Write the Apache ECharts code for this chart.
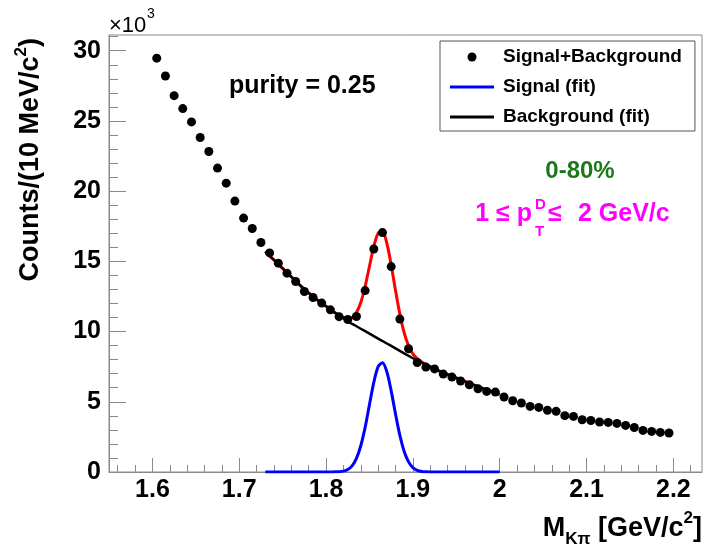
<!DOCTYPE html>
<html>
<head>
<meta charset="utf-8">
<script src="https://cdn.jsdelivr.net/npm/echarts@6/dist/echarts.min.js"></script>
<style>
  html, body { margin: 0; padding: 0; background: #fff; }
  #chart { width: 705px; height: 549px; }
</style>
</head>
<body>
<div id="chart"></div>
<script>
const FONT = 'Liberation Sans';

// invariant mass bins (GeV/c^2), counts in units of 10^3
const massBins = [
  1.605, 1.615, 1.625, 1.635, 1.645, 1.655, 1.665, 1.675, 1.685, 1.695,
  1.705, 1.715, 1.725, 1.735, 1.745, 1.755, 1.765, 1.775, 1.785, 1.795,
  1.805, 1.815, 1.825, 1.835, 1.845, 1.855, 1.865, 1.875, 1.885, 1.895,
  1.905, 1.915, 1.925, 1.935, 1.945, 1.955, 1.965, 1.975, 1.985, 1.995,
  2.005, 2.015, 2.025, 2.035, 2.045, 2.055, 2.065, 2.075, 2.085, 2.095,
  2.105, 2.115, 2.125, 2.135, 2.145, 2.155, 2.165, 2.175, 2.185, 2.195
];
const counts = [
  29.47, 28.2, 26.8, 25.88, 24.93, 23.82, 22.82, 21.64, 20.57, 19.29,
  18.08, 17.34, 16.34, 15.6, 14.87, 14.16, 13.57, 12.85, 12.43, 12.03,
  11.55, 11.06, 10.86, 11.07, 12.92, 15.88, 17.05, 14.63, 10.89, 8.78,
  7.8, 7.47, 7.34, 6.97, 6.76, 6.48, 6.21, 5.93, 5.74, 5.69,
  5.34, 5.07, 4.91, 4.67, 4.6, 4.4, 4.32, 4.01, 3.96, 3.72,
  3.67, 3.56, 3.53, 3.46, 3.32, 3.17, 2.96, 2.89, 2.82, 2.78
];

// fit curves
const fitMass = [
  1.73, 1.74, 1.75, 1.76, 1.77, 1.78, 1.79, 1.80, 1.81,
  1.815, 1.82, 1.825, 1.83, 1.835, 1.84, 1.845, 1.85, 1.855, 1.86, 1.865,
  1.87, 1.875, 1.88, 1.885, 1.89, 1.895, 1.90, 1.905, 1.91, 1.915,
  1.92, 1.93, 1.94, 1.95, 1.96, 1.97, 1.98, 1.99, 2.00
];
const bkgFit = [
  15.7, 15.1, 14.5, 13.9, 13.3, 12.75, 12.25, 11.8, 11.35,
  11.15, 10.95, 10.75, 10.55, 10.38, 10.2, 10.03, 9.85, 9.68, 9.5, 9.33,
  9.15, 8.98, 8.8, 8.63, 8.45, 8.28, 8.1, 7.95, 7.8, 7.65,
  7.5, 7.2, 6.95, 6.7, 6.45, 6.2, 5.97, 5.75, 5.53
];
const sigFit = [
  0, 0, 0, 0, 0, 0, 0, 0, 0.01,
  0.02, 0.06, 0.18, 0.44, 0.97, 1.87, 3.18, 4.8, 6.38, 7.5, 7.78,
  7.14, 5.78, 4.13, 2.61, 1.46, 0.72, 0.31, 0.12, 0.04, 0.01,
  0, 0, 0, 0, 0, 0, 0, 0, 0
];
const totalFit = [
  15.7, 15.1, 14.5, 13.9, 13.3, 12.75, 12.25, 11.8, 11.36,
  11.17, 11.01, 10.93, 10.99, 11.35, 12.07, 13.21, 14.65, 16.06, 17.0, 17.11,
  16.29, 14.76, 12.93, 11.24, 9.91, 9.0, 8.41, 8.07, 7.84, 7.66,
  7.5, 7.2, 6.95, 6.7, 6.45, 6.2, 5.97, 5.75, 5.53
];

const xTicks = [1.6, 1.7, 1.8, 1.9, 2.0, 2.1, 2.2];
const yTicks = [0, 5, 10, 15, 20, 25, 30];

// minor ticks: 0.02 steps on x, 1 unit steps on y
const xMinor = [];
for (let i = 78; i <= 111; i++) {
  if (i % 5 !== 0) xMinor.push(Math.round(i * 2) / 100);
}
const yMinor = [];
for (let i = 1; i <= 31; i++) {
  if (i % 5 !== 0) yMinor.push(i);
}

const pairs = (xs, ys) => xs.map((x, i) => [x, ys[i]]);

const XMIN = 1.55, XMAX = 2.233, YMIN = 0, YMAX = 31.12;
const GRAY = '#8a8a8a';

const chart = echarts.init(document.getElementById('chart'));

const minorX = {
  type: 'value', min: XMIN, max: XMAX, position: 'bottom', offset: 0,
  axisLine: { show: false },
  axisTick: { inside: true, length: 7, customValues: xMinor, lineStyle: { color: GRAY } },
  axisLabel: { show: false },
  splitLine: { show: false }
};
const minorY = {
  type: 'value', min: YMIN, max: YMAX, position: 'left', offset: 0,
  axisLine: { show: false },
  axisTick: { inside: true, length: 9, customValues: yMinor, lineStyle: { color: GRAY } },
  axisLabel: { show: false },
  splitLine: { show: false }
};

const lineIcon = 'path://M0,0H44V3H0Z';

// small helper for the free text labels
function label(x, y, text, size, color, align, extra) {
  return Object.assign({
    type: 'text', x: x, y: y,
    style: {
      text: text, fontFamily: FONT, fontWeight: 'bold', fontSize: size, fill: color,
      align: align, verticalAlign: 'middle', textAlign: align, textVerticalAlign: 'middle'
    }
  }, extra || {});
}

chart.setOption({
  animation: false,
  backgroundColor: '#fff',
  grid: {
    left: 109, right: 3, top: 35, bottom: 77,
    show: true, borderColor: GRAY, borderWidth: 1,
    outerBoundsMode: 'none'
  },
  xAxis: [{
    type: 'value', min: XMIN, max: XMAX, position: 'bottom',
    axisLine: { lineStyle: { color: GRAY } },
    axisTick: { inside: true, length: 14, customValues: xTicks, lineStyle: { color: GRAY } },
    axisLabel: {
      customValues: xTicks, formatter: v => String(v), margin: 6,
      fontFamily: FONT, fontWeight: 'bold', fontSize: 25, color: '#000'
    },
    splitLine: { show: false }
  }, minorX],
  yAxis: [{
    type: 'value', min: YMIN, max: YMAX, position: 'left',
    axisLine: { show: true, lineStyle: { color: GRAY } },
    axisTick: { inside: true, length: 17, customValues: yTicks, lineStyle: { color: GRAY } },
    axisLabel: {
      customValues: yTicks, margin: 8,
      fontFamily: FONT, fontWeight: 'bold', fontSize: 25, color: '#000'
    },
    splitLine: { show: false }
  }, minorY],
  legend: {
    orient: 'vertical', left: 440, top: 41,
    itemWidth: 44, itemHeight: 9, itemGap: 8,
    padding: [5, 13, 3, 10],
    borderColor: '#555', borderWidth: 1, backgroundColor: '#fff',
    selectedMode: false,
    textStyle: {
      fontFamily: FONT, fontWeight: 'bold', fontSize: 19, color: '#000',
      lineHeight: 22, padding: [0, 0, 0, 4]
    },
    data: [
      { name: 'Signal+Background', icon: 'circle' },
      { name: 'Signal (fit)', icon: lineIcon },
      { name: 'Background (fit)', icon: lineIcon }
    ]
  },
  series: [{
    name: 'Total (fit)', type: 'line', data: pairs(fitMass, totalFit),
    symbol: 'none', smooth: 0.3, z: 2,
    itemStyle: { color: '#ff0000' },
    lineStyle: { color: '#ff0000', width: 3 }
  }, {
    name: 'Background (fit)', type: 'line', data: pairs(fitMass, bkgFit),
    symbol: 'none', smooth: 0.3, z: 3,
    itemStyle: { color: '#000' },
    lineStyle: { color: '#000', width: 2.5 }
  }, {
    name: 'Signal (fit)', type: 'line', data: pairs(fitMass, sigFit),
    symbol: 'none', smooth: 0.3, z: 3,
    itemStyle: { color: '#0000ff' },
    lineStyle: { color: '#0000ff', width: 3 }
  }, {
    name: 'Signal+Background', type: 'scatter', data: pairs(massBins, counts),
    symbol: 'circle', symbolSize: 9, z: 5,
    itemStyle: { color: '#000', opacity: 1 }
  }],
  graphic: [
    // ×10^3 multiplier
    { type: 'text', x: 109, y: 26, style: {
      text: '×10', fontFamily: FONT, fontSize: 22, fill: '#000',
      align: 'left', verticalAlign: 'middle', textAlign: 'left', textVerticalAlign: 'middle' } },
    { type: 'text', x: 147, y: 14, style: {
      text: '3', fontFamily: FONT, fontSize: 14, fill: '#000',
      align: 'left', verticalAlign: 'middle', textAlign: 'left', textVerticalAlign: 'middle' } },
    // y title
    { type: 'text', x: 31, y: 38, rotation: Math.PI / 2, style: {
      text: '{a|Counts/(10 MeV/c}{s|2}{a|)}',
      align: 'right', verticalAlign: 'middle', textAlign: 'right', textVerticalAlign: 'middle',
      rich: {
        a: { fontFamily: FONT, fontWeight: 'bold', fontSize: 27, lineHeight: 36, fill: '#000', color: '#000' },
        s: { fontFamily: FONT, fontWeight: 'bold', fontSize: 17, lineHeight: 17, verticalAlign: 'top', fill: '#000', color: '#000' }
      } } },
    // x title
    { type: 'text', x: 702, y: 529, style: {
      text: '{a|M}{b|Kπ}{a| [GeV/c}{s|2}{a|]}',
      align: 'right', verticalAlign: 'middle', textAlign: 'right', textVerticalAlign: 'middle',
      rich: {
        a: { fontFamily: FONT, fontWeight: 'bold', fontSize: 27, lineHeight: 38, fill: '#000', color: '#000' },
        b: { fontFamily: FONT, fontWeight: 'bold', fontSize: 17, lineHeight: 17, verticalAlign: 'bottom', fill: '#000', color: '#000' },
        s: { fontFamily: FONT, fontWeight: 'bold', fontSize: 17, lineHeight: 17, verticalAlign: 'top', fill: '#000', color: '#000' }
      } } },
    label(229, 86, 'purity = 0.25', 25, '#000', 'left'),
    label(580, 171, '0-80%', 24, '#1a7a1a', 'center'),
    label(532, 214, '1 ≤ p', 25, '#ff00ff', 'right'),
    label(535, 205, 'D', 15, '#ff00ff', 'left'),
    label(535, 232, 'T', 15, '#ff00ff', 'left'),
    label(548, 214, '≤', 25, '#ff00ff', 'left'),
    label(578, 214, '2 GeV/c', 25, '#ff00ff', 'left')
  ]
});
</script>
</body>
</html>
